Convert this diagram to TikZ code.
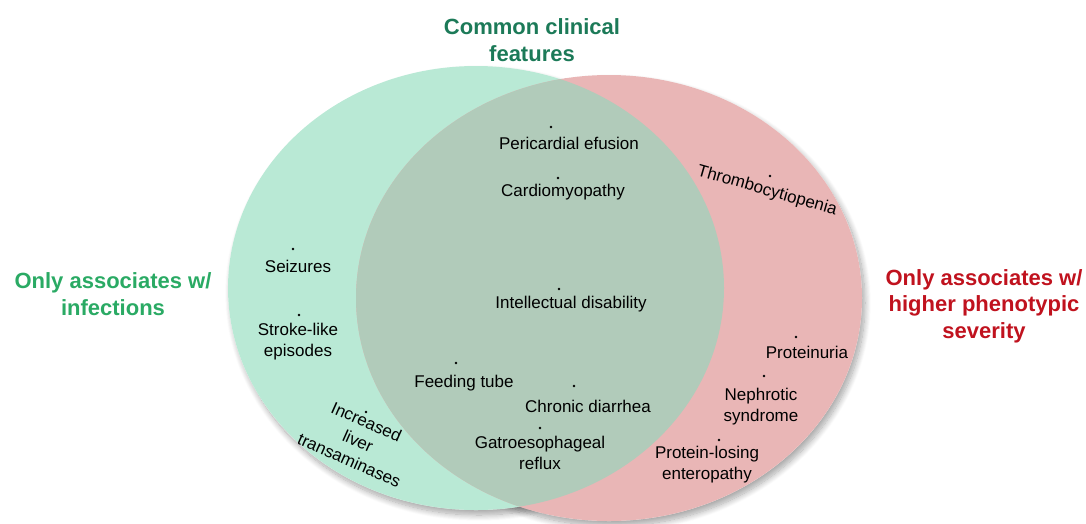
\documentclass[tikz,border=0pt]{standalone}
\usepackage{fontspec}
\setmainfont{Liberation Sans}
\usetikzlibrary{shadows.blur}
\definecolor{mint}{RGB}{185,233,213}
\definecolor{rose}{RGB}{233,182,182}
\definecolor{mixc}{RGB}{177,203,186}
\definecolor{titleteal}{RGB}{28,122,88}
\definecolor{titlegreen}{RGB}{42,170,100}
\definecolor{titlered}{RGB}{192,18,30}
\tikzset{
  lbl/.style={font=\fontsize{17}{21}\selectfont, text=black, align=center, inner sep=0pt},
  ttl/.style={font=\fontsize{22}{26.5}\selectfont\bfseries, align=center, inner sep=0pt},
  bul/.style={circle, fill=black, minimum size=2.8pt, inner sep=0pt},
  shd/.style={blur shadow={shadow xshift=3pt, shadow yshift=-5pt, shadow blur steps=12, shadow opacity=35, shadow blur radius=6pt}}
}
\begin{document}
\begin{tikzpicture}[x=1pt,y=-1pt]
\useasboundingbox (0,0) rectangle (1086,523);
% circles
\fill[white, shd] (609,298) ellipse [x radius=253, y radius=223];
\fill[white, shd] (476,288) ellipse [x radius=248, y radius=222];
\fill[mint] (476,288) ellipse [x radius=248, y radius=222];
\fill[rose] (609,298) ellipse [x radius=253, y radius=223];
\begin{scope}
  \clip (476,288) ellipse [x radius=248, y radius=222];
  \fill[mixc] (609,298) ellipse [x radius=253, y radius=223];
\end{scope}
% titles
\node[ttl, text=titleteal] (tcommon) at (532,40) {Common clinical\\features};
\node[ttl, text=titlegreen] (tinf) at (113,294) {Only associates w/\\infections};
\node[ttl, text=titlered] (tsev) at (984,306) {Only associates w/\\higher phenotypic\\severity};
% common features
\node[bul] (b1) at (551,127) {};
\node[lbl] (pe) at (569,143) {Pericardial efusion};
\node[bul] (b2) at (558,178) {};
\node[lbl] (cm) at (563,192) {Cardiomyopathy};
\node[bul] (b3) at (559,289) {};
\node[lbl] (id) at (571,304) {Intellectual disability};
\node[bul] (b4) at (456,363) {};
\node[lbl] (ft) at (464,383) {Feeding tube};
\node[bul] (b5) at (574,386) {};
\node[lbl] (cd) at (588,406) {Chronic diarrhea};
\node[bul] (b6) at (540,428) {};
\node[lbl] (gr) at (540,453) {Gatroesophageal\\reflux};
% infections only
\node[bul] (b7) at (293,249) {};
\node[lbl] (sz) at (298,266) {Seizures};
\node[bul] (b8) at (299,315) {};
\node[lbl] (sl) at (298,342) {Stroke-like\\episodes};
\node[bul] (b9) at (366,412) {};
\node[lbl, rotate=-24] (il) at (358,441) {Increased\\liver\\transaminases};
% severity only
\node[bul] (b10) at (770,176) {};
\node[lbl, rotate=-16] (tb) at (767,191) {Thrombocytiopenia};
\node[bul] (b11) at (796,337) {};
\node[lbl] (pu) at (807,352) {Proteinuria};
\node[bul] (b12) at (764,376) {};
\node[lbl] (ns) at (761,407) {Nephrotic\\syndrome};
\node[bul] (b13) at (719,440) {};
\node[lbl] (pl) at (707,465) {Protein-losing\\enteropathy};
\end{tikzpicture}
\end{document}
